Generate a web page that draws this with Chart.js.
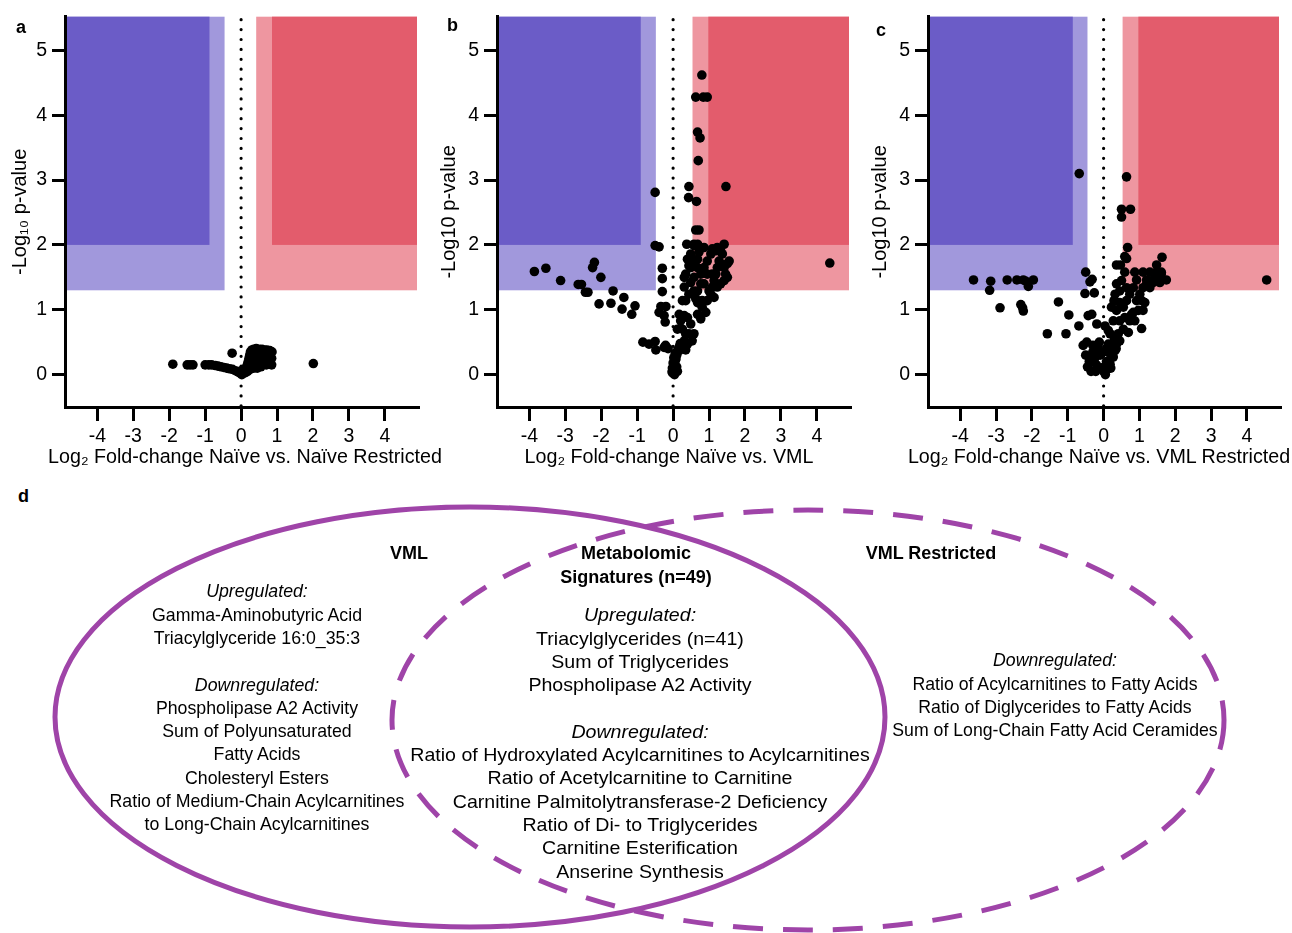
<!DOCTYPE html>
<html lang="en">
<head>
<meta charset="UTF-8">
<title>Volcano plots and metabolomic signatures</title>
<script src="https://cdn.jsdelivr.net/npm/chart.js@4.4.0/dist/chart.umd.min.js"></script>
<style>
  body { margin:0; background:#fff; width:1292px; height:933px; position:relative; overflow:hidden;
         font-family: Arial, "Liberation Sans", sans-serif; color:#000; }
  .panel { position:absolute; top:0; }
  .tag { position:absolute; font-weight:bold; font-size:18px; line-height:18px; }
  .xtitle { position:absolute; top:444px; white-space:nowrap; font-size:19.7px; line-height:24px;
            transform:translateX(-50%); }
  .venn-text { position:absolute; white-space:nowrap; text-align:center; font-size:19px; line-height:23.3px;
               transform:translateX(-50%); }
  .venn-head { position:absolute; white-space:nowrap; text-align:center; font-size:18px; font-weight:bold;
               line-height:24px; transform:translateX(-50%); }
  #venn { position:absolute; left:0; top:0; }
</style>
</head>
<body>
<canvas id="chartA" class="panel" style="left:0" width="430" height="470"></canvas>
<canvas id="chartB" class="panel" style="left:430px" width="430" height="470"></canvas>
<canvas id="chartC" class="panel" style="left:860px" width="432" height="470"></canvas>
<div class="tag" style="left:16px;top:18px">a</div>
<div class="tag" style="left:447px;top:16px">b</div>
<div class="tag" style="left:876px;top:21px">c</div>
<div class="tag" style="left:18px;top:487px">d</div>
<div class="xtitle" style="left:245px">Log₂ Fold-change Naïve vs. Naïve Restricted</div>
<div class="xtitle" style="left:669px">Log₂ Fold-change Naïve vs. VML</div>
<div class="xtitle" style="left:1099px">Log₂ Fold-change Naïve vs. VML Restricted</div>

<svg id="venn" width="1292" height="933">
  <ellipse cx="808" cy="720" rx="416" ry="210" fill="none" stroke="#9F44A8" stroke-width="5" stroke-dasharray="30 20"/>
  <ellipse cx="470" cy="717" rx="415" ry="210" fill="none" stroke="#9F44A8" stroke-width="5"/>
</svg>
<div id="vennText"></div>

<script>
// axis setup shared by the three volcano plots
const xTicks = [-4, -3, -2, -1, 0, 1, 2, 3, 4];
const yTicks = [0, 1, 2, 3, 4, 5];
const xRange = [-4.9, 4.95];
const yRange = [-0.5, 5.52];
const sigLevels = [1.3, 2]; // -log10 p cut-offs (light, dark)

// fold-change cut-offs per panel: [light left, light right, dark left, dark right]
const cutsA = [-0.46, 0.42, -0.88, 0.86];
const cutsB = [-0.48, 0.54, -0.90, 0.98];
const cutsC = [-0.45, 0.53, -0.86, 0.97];

// [log2 fold-change, -log10 p]
const pointsA = [
  [-1.90,0.16],[-1.50,0.15],[-1.42,0.15],[-1.34,0.15],[-1.00,0.15],[-0.90,0.15],[-0.82,0.15],
  [-0.72,0.14],[-0.64,0.13],[-0.56,0.12],[-0.48,0.11],[-0.40,0.10],[-0.32,0.09],[-0.24,0.08],
  [-0.16,0.06],[-0.08,0.04],[-0.02,0.02],[0.02,0.00],[-0.25,0.33],[2.01,0.17],
  [0.08,0.05],[0.12,0.08],[0.15,0.12],[0.18,0.16],[0.20,0.20],[0.22,0.25],[0.24,0.30],[0.26,0.35],
  [0.30,0.38],[0.35,0.39],[0.42,0.40],[0.50,0.39],[0.58,0.39],[0.65,0.38],[0.72,0.38],[0.80,0.37],
  [0.86,0.35],[0.30,0.30],[0.38,0.32],[0.45,0.33],[0.55,0.34],[0.62,0.32],[0.70,0.30],[0.78,0.28],
  [0.85,0.25],[0.30,0.20],[0.40,0.22],[0.50,0.25],[0.60,0.24],[0.75,0.20],[0.82,0.17],[0.20,0.12],
  [0.30,0.12],[0.40,0.14],[0.50,0.15],[0.60,0.16],[0.70,0.15],[0.85,0.15],[0.25,0.08],[0.35,0.10],
  [0.45,0.10],[0.55,0.12],[0.12,0.03],[0.05,0.02],[0.00,0.06],[0.18,0.05]
];

const pointsB = [
  [-3.86,1.59],[-3.54,1.64],[-3.13,1.45],[-2.64,1.39],[-2.55,1.39],[-2.44,1.27],[-2.37,1.27],
  [-2.24,1.65],[-2.19,1.73],[-2.01,1.50],[-2.06,1.09],[-1.73,1.10],[-1.67,1.29],[-1.37,1.19],
  [-1.42,1.01],[-1.15,0.93],[-1.06,1.06],[-0.84,0.50],[-0.67,0.47],[-0.50,0.51],[-0.48,0.38],
  [-0.50,2.81],[-0.50,1.99],[-0.39,1.97],[-0.30,1.64],[-0.30,1.48],[-0.30,1.28],[-0.34,1.05],
  [-0.20,1.05],[-0.39,0.96],[-0.25,0.91],[-0.22,0.81],[-0.25,0.42],[-0.14,0.40],[-0.21,0.45],
  [0.00,0.02],[0.02,0.05],[0.05,0.08],[-0.02,0.10],[0.03,0.14],[0.00,0.18],[0.05,0.20],[0.08,0.24],
  [0.02,0.26],[0.10,0.30],[0.06,0.33],[0.12,0.36],[0.15,0.40],[0.18,0.44],[0.20,0.48],[0.10,0.12],
  [0.12,0.05],[-0.03,0.04],[0.04,0.00],
  [0.17,0.37],[0.35,0.38],[0.12,0.70],[0.26,0.70],[0.17,0.93],[0.31,0.91],[0.40,0.88],[0.26,1.14],
  [0.31,1.35],[0.35,1.55],[0.44,1.68],[0.40,1.78],[0.31,1.50],[0.44,1.24],[0.49,1.42],[0.58,1.29],
  [0.63,1.17],[0.68,1.11],[0.49,0.78],[0.44,0.63],[0.58,0.63],[0.53,0.52],[0.35,0.63],[0.68,0.93],
  [0.77,0.86],[0.81,1.04],[0.91,0.96],[0.95,1.14],[1.05,1.24],[1.09,1.35],[1.14,1.45],[1.19,1.55],
  [1.23,1.65],[1.28,1.75],[1.09,1.94],[1.19,1.91],[1.32,1.91],[1.37,1.86],[1.32,1.71],[1.42,1.65],
  [1.51,1.71],[1.56,1.75],[1.46,1.55],[1.51,1.50],[1.42,1.45],[1.32,1.40],[1.23,1.35],[1.14,1.19],
  [1.00,1.29],[0.86,1.40],[0.77,1.55],[0.68,1.65],[0.58,1.75],[0.77,1.40],[0.86,1.65],[0.95,1.75],
  [1.05,1.86],[1.23,1.96],[0.72,1.89],[0.95,1.55],[1.09,1.55],[0.81,1.14],[0.68,1.29],[0.58,1.50],
  [0.68,1.78],[0.49,1.86],[0.58,1.99],[0.49,1.65],[0.35,1.14],[0.21,0.83],[0.31,0.52],[0.21,0.42],
  [0.40,0.47],
  [0.80,4.62],[0.63,4.28],[0.84,4.28],[0.95,4.28],[0.68,3.74],[0.75,3.65],[0.70,3.30],[0.44,2.90],
  [0.43,2.73],[0.65,2.67],[1.47,2.90],[0.63,2.23],[0.72,2.23],[0.38,2.01],[0.58,2.01],[0.68,2.01],
  [1.42,2.01],[0.86,1.96],[4.36,1.72]
];

const pointsC = [
  [-3.63,1.46],[-3.18,1.30],[-3.15,1.44],[-2.89,1.03],[-2.69,1.46],[-2.42,1.46],[-2.24,1.46],
  [-2.17,1.44],[-1.96,1.46],[-2.10,1.36],[-2.31,1.08],[-2.26,1.03],[-2.24,0.98],[-1.57,0.63],
  [-1.26,1.12],[-1.05,0.63],[-0.97,0.92],[-0.68,3.10],[-0.69,0.75],[-0.50,1.58],[-0.38,1.43],
  [-0.32,1.47],[-0.52,1.25],[-0.26,1.26],[-0.43,0.91],[-0.33,0.93],[-0.19,0.78],[-0.57,0.45],
  [-0.47,0.50],
  [-0.50,0.30],[-0.40,0.20],[-0.45,0.12],[-0.30,0.35],[-0.25,0.25],[-0.35,0.05],[-0.20,0.15],
  [-0.15,0.40],[-0.10,0.30],[-0.05,0.10],[0.00,0.05],[0.05,0.00],[0.10,0.08],[0.15,0.15],[0.20,0.10],
  [0.08,0.20],[-0.12,0.50],[-0.30,0.45],[0.00,0.35],[0.12,0.40],[0.20,0.30],[0.25,0.45],[0.30,0.55],
  [0.35,0.40],[-0.40,0.28],[-0.22,0.05],[0.02,0.12],
  [0.64,3.05],[0.50,2.55],[0.75,2.55],[0.50,2.43],[0.67,1.96],[0.59,1.82],[0.64,1.79],[0.36,1.69],
  [0.47,1.69],[0.59,1.58],[0.87,1.58],[1.10,1.58],[1.29,1.58],[1.48,1.58],[1.61,1.58],[1.63,1.81],
  [1.48,1.69],[0.92,1.46],[1.20,1.46],[1.38,1.46],[1.57,1.46],[1.75,1.46],[4.55,1.46],[1.06,0.71],
  [0.18,0.63],[0.27,0.83],[0.22,1.04],[0.32,1.24],[0.36,1.40],[0.29,1.14],[0.41,0.63],[0.45,0.83],
  [0.55,1.04],[0.64,1.14],[0.59,0.88],[0.73,0.83],[0.78,0.93],[0.87,0.83],[0.92,1.14],[1.01,1.24],
  [1.10,1.34],[1.20,1.40],[1.29,1.34],[1.38,1.42],[1.06,1.14],[1.15,1.11],[0.97,0.99],[0.83,0.96],
  [1.10,0.99],[0.64,1.34],[0.73,1.24],[0.83,1.34],[0.45,1.29],[0.50,1.45],[0.36,0.47],[0.32,0.37],
  [0.45,0.52],[0.27,0.27],[0.18,0.16],[0.08,0.09],[0.04,0.75],[0.13,0.68],[0.13,0.47],[0.22,0.37],
  [1.48,1.50],[1.61,1.55],[1.57,1.42],[0.55,0.70],[0.69,0.65],[0.36,0.99],[0.45,1.11]
];

// Venn diagram text
const vmlUp = ['Gamma-Aminobutyric Acid', 'Triacylglyceride 16:0_35:3'];
const vmlDown = ['Phospholipase A2 Activity', 'Sum of Polyunsaturated', 'Fatty Acids', 'Cholesteryl Esters',
  'Ratio of Medium-Chain Acylcarnitines', 'to Long-Chain Acylcarnitines'];
const sharedUp = ['Triacylglycerides (n=41)', 'Sum of Triglycerides', 'Phospholipase A2 Activity'];
const sharedDown = ['Ratio of Hydroxylated Acylcarnitines to Acylcarnitines', 'Ratio of Acetylcarnitine to Carnitine',
  'Carnitine Palmitolytransferase-2 Deficiency', 'Ratio of Di- to Triglycerides', 'Carnitine Esterification',
  'Anserine Synthesis'];
const restrictedDown = ['Ratio of Acylcarnitines to Fatty Acids', 'Ratio of Diglycerides to Fatty Acids',
  'Sum of Long-Chain Fatty Acid Ceramides'];

const FONT = 'Arial, "Liberation Sans", sans-serif';

// shaded significance regions + dotted zero line, drawn under the axes
const shading = {
  id: 'shading',
  beforeDraw(chart, args, opts) {
    const {ctx, chartArea: a, scales: {x, y}} = chart;
    const c = opts.cuts;
    const yLight = y.getPixelForValue(sigLevels[0]);
    const yDark = y.getPixelForValue(sigLevels[1]);
    ctx.save();
    ctx.fillStyle = '#A198DC';
    ctx.fillRect(a.left, a.top, x.getPixelForValue(c[0]) - a.left, yLight - a.top);
    ctx.fillStyle = '#6B5CC7';
    ctx.fillRect(a.left, a.top, x.getPixelForValue(c[2]) - a.left, yDark - a.top);
    const rl = x.getPixelForValue(c[1]);
    ctx.fillStyle = '#EE96A0';
    ctx.fillRect(rl, a.top, a.right - 2 - rl, yLight - a.top);
    const rd = x.getPixelForValue(c[3]);
    ctx.fillStyle = '#E35C6C';
    ctx.fillRect(rd, a.top, a.right - 2 - rd, yDark - a.top);

    const x0 = x.getPixelForValue(0);
    ctx.strokeStyle = '#000';
    ctx.lineWidth = 3.2;
    ctx.lineCap = 'round';
    ctx.setLineDash([0, 9.9]);
    ctx.beginPath();
    ctx.moveTo(x0, a.top + 3);
    ctx.lineTo(x0, a.bottom);
    ctx.stroke();
    ctx.restore();
  }
};

function volcano(id, points, cuts, yTitle, yWidth, rightPad, titlePad) {
  return new Chart(document.getElementById(id), {
    type: 'scatter',
    data: {
      datasets: [{
        data: points.map(p => ({x: p[0], y: p[1]})),
        backgroundColor: '#000',
        borderWidth: 0,
        pointRadius: 4.8
      }]
    },
    options: {
      responsive: false,
      animation: false,
      events: [],
      layout: {padding: {top: 15, right: rightPad, left: 0, bottom: 0}},
      plugins: {legend: {display: false}, tooltip: {enabled: false}, shading: {cuts: cuts}},
      scales: {
        x: {
          type: 'linear', min: xRange[0], max: xRange[1],
          afterBuildTicks: s => { s.ticks = xTicks.map(v => ({value: v})); },
          afterFit: s => { s.height = 63; },
          grid: {drawOnChartArea: false, tickLength: 14, tickWidth: 3, tickColor: '#000'},
          border: {display: true, width: 3, color: '#000'},
          ticks: {color: '#000', font: {size: 19.5, family: FONT}, padding: 4, maxRotation: 0, autoSkip: false},
          title: {display: false}
        },
        y: {
          type: 'linear', min: yRange[0], max: yRange[1],
          afterBuildTicks: s => { s.ticks = yTicks.map(v => ({value: v})); },
          afterFit: s => { s.width = yWidth; },
          grid: {drawOnChartArea: false, tickLength: 13, tickWidth: 3, tickColor: '#000'},
          border: {display: true, width: 3, color: '#000'},
          ticks: {color: '#000', font: {size: 19.5, family: FONT}, padding: 5, autoSkip: false},
          title: {display: true, text: yTitle, color: '#000', font: {size: 20, family: FONT},
                  padding: {top: titlePad, bottom: 0}}
        }
      }
    },
    plugins: [shading]
  });
}

volcano('chartA', pointsA, cutsA, '-Log\u2081\u2080 p-value', 65, 11, 8);
volcano('chartB', pointsB, cutsB, '-Log10 p-value', 67, 9, 7);
volcano('chartC', pointsC, cutsC, '-Log10 p-value', 68, 11, 8);

// Venn labels
const holder = document.getElementById('vennText');
function addBlock(cls, cx, top, html, fitWidth) {
  const d = document.createElement('div');
  d.className = cls;
  d.style.left = cx + 'px';
  d.style.top = top + 'px';
  d.innerHTML = html;
  holder.appendChild(d);
  if (fitWidth) {
    const k = fitWidth / d.offsetWidth;
    d.style.transform = 'translateX(-50%) scaleX(' + k.toFixed(3) + ')';
  }
}
const lines = arr => arr.join('<br>');

addBlock('venn-head', 409, 541, 'VML');
addBlock('venn-head', 636, 541, 'Metabolomic<br>Signatures (n=49)');
addBlock('venn-head', 931, 541, 'VML Restricted');
addBlock('venn-text', 257, 579.4,
  '<i>Upregulated:</i><br>' + lines(vmlUp) + '<br><br><i>Downregulated:</i><br>' + lines(vmlDown), 295);
addBlock('venn-text', 640, 603.4,
  '<i>Upregulated:</i><br>' + lines(sharedUp) + '<br><br><i>Downregulated:</i><br>' + lines(sharedDown), 460);
addBlock('venn-text', 1055, 648.4,
  '<i>Downregulated:</i><br>' + lines(restrictedDown), 326);
</script>
</body>
</html>
